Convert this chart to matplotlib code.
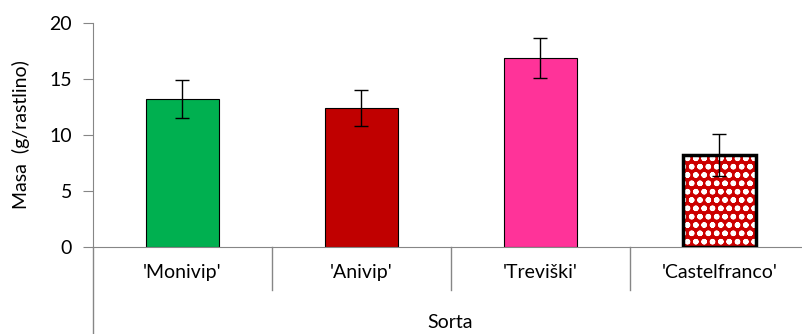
import matplotlib.pyplot as plt
import numpy as np

plt.rcParams['font.family'] = ['Lato', 'DejaVu Sans']

sorte = ["'Monivip'", "'Anivip'", "'Treviški'", "'Castelfranco'"]
masa = [13.2, 12.4, 16.9, 8.2]
napaka = [1.7, 1.6, 1.8, 1.9]
barve = ['#00b050', '#c00000', '#ff3399', '#cc0000']

W, H = 803, 334
fig = plt.figure(figsize=(W / 100, H / 100), dpi=100)
ax = fig.add_axes([93 / W, (H - 247) / H, 716 / W, 224 / H])

x = np.arange(len(sorte))
siva = '#868686'
fs = 14

# prvi trije stolpci
ax.bar(x[:3], masa[:3], width=0.41, color=barve[:3], edgecolor='black', linewidth=0.8, zorder=2)

# zadnji stolpec z vzorcem
plt.rcParams['hatch.linewidth'] = 1.6
ax.bar(x[3], masa[3], width=0.41, color=barve[3], edgecolor='white', hatch='oo', linewidth=0, zorder=2)
ax.bar(x[3], masa[3], width=0.41, fill=False, edgecolor='black', linewidth=2.5, zorder=3)

ax.errorbar(x, masa, yerr=napaka, fmt='none', ecolor='black', elinewidth=1, capsize=5, capthick=1, zorder=4)

ax.set_xlim(-0.5, 3.5)
ax.set_ylim(0, 20)
ax.set_yticks([0, 5, 10, 15, 20])
ax.set_xticks(x)
ax.set_xticklabels(sorte)

for s in ['top', 'right']:
    ax.spines[s].set_visible(False)
ax.spines['left'].set_color(siva)
ax.spines['bottom'].set_color(siva)
ax.tick_params(axis='y', colors=siva, labelcolor='black', labelsize=fs, length=7, pad=8, direction='out')
ax.tick_params(axis='x', length=0, labelsize=fs, pad=12)

# podaljšana os in ločila kategorij
ax.plot([-0.5, -0.5], [0, -0.39], transform=ax.get_xaxis_transform(), color=siva, lw=1, clip_on=False)
for xs in [0.5, 1.5, 2.5]:
    ax.plot([xs, xs], [0, -0.19], transform=ax.get_xaxis_transform(), color=siva, lw=1, clip_on=False)

ax.set_ylabel('Masa  (g/rastlino)', fontsize=fs, labelpad=14)
fig.text(450 / W, 1 - 322 / H, 'Sorta', fontsize=fs, ha='center', va='center')

plt.savefig('out.png', dpi=100)
